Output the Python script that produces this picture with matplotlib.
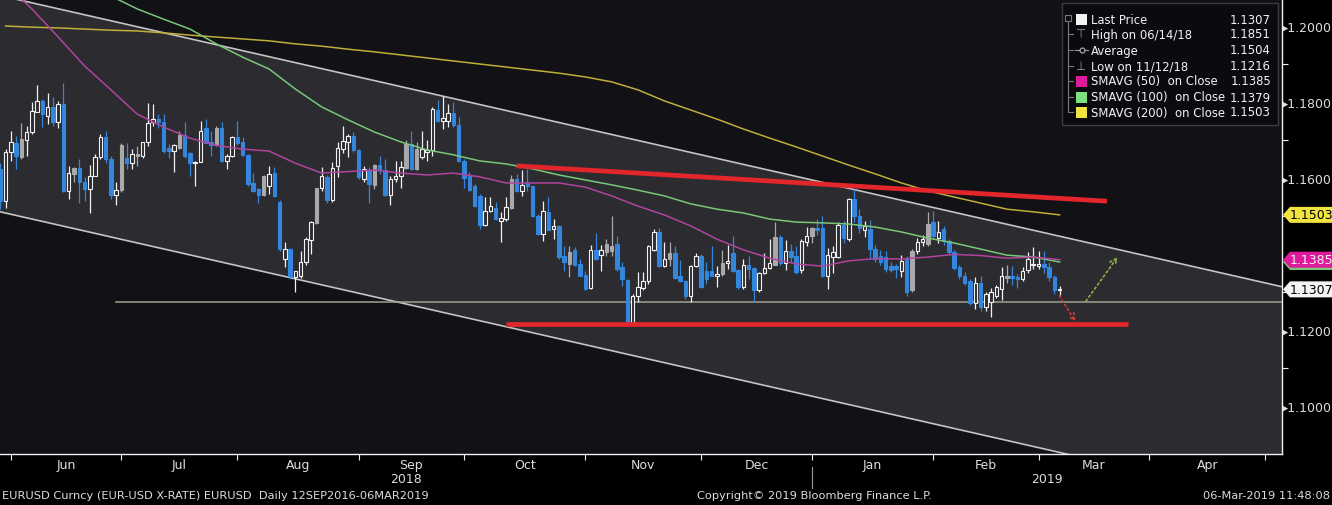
import matplotlib
matplotlib.use("Agg")
import matplotlib.pyplot as plt
import matplotlib.transforms as mtransforms
from matplotlib.patches import Polygon, Rectangle
import numpy as np
import pandas as pd

# --- data -------------------------------------------------------------------
first_day = "2018-05-29"
last_day = "2019-03-06"
axis_end_day = "2019-05-31"

# daily candles, May 29 2018 .. Mar 6 2019 (FX: every weekday)
opens = [
    1.1624, 1.1540, 1.1668,
    # Jun
    1.1692, 1.1654, 1.1701, 1.1720, 1.1775, 1.1802, 1.1764, 1.1786, 1.1748, 1.1795, 1.1567,
    1.1611, 1.1626, 1.1590, 1.1571, 1.1606, 1.1654, 1.1707, 1.1650, 1.1554, 1.1569,
    # Jul
    1.1652, 1.1640, 1.1657, 1.1657, 1.1694, 1.1748, 1.1755, 1.1747, 1.1678, 1.1672, 1.1678,
    1.1713, 1.1665, 1.1640, 1.1641, 1.1731, 1.1696, 1.1687, 1.1731, 1.1646, 1.1657, 1.1707,
    # Aug
    1.1696, 1.1661, 1.1587, 1.1571, 1.1555, 1.1580, 1.1613, 1.1538, 1.1388, 1.1413, 1.1339,
    1.1341, 1.1378, 1.1438, 1.1482, 1.1573, 1.1602, 1.1541, 1.1631, 1.1676, 1.1694, 1.1711, 1.1675,
    # Sep
    1.1597, 1.1622, 1.1582, 1.1634, 1.1622, 1.1555, 1.1597, 1.1606, 1.1626, 1.1690,
    1.1624, 1.1655, 1.1669, 1.1675, 1.1780, 1.1751, 1.1749, 1.1771, 1.1739, 1.1646,
    # Oct
    1.1608, 1.1580, 1.1552, 1.1476, 1.1514, 1.1520, 1.1488, 1.1492, 1.1520, 1.1597, 1.1567,
    1.1588, 1.1578, 1.1501, 1.1453, 1.1511, 1.1466, 1.1475, 1.1394, 1.1374, 1.1411, 1.1374, 1.1345,
    # Nov
    1.1310, 1.1411, 1.1397, 1.1406, 1.1409, 1.1426, 1.1365, 1.1332, 1.1219, 1.1290, 1.1310,
    1.1330, 1.1411, 1.1457, 1.1369, 1.1387, 1.1403, 1.1343, 1.1330, 1.1290, 1.1368, 1.1394,
    # Dec
    1.1356, 1.1356, 1.1343, 1.1347, 1.1376, 1.1403, 1.1359, 1.1312, 1.1371, 1.1362, 1.1304,
    1.1350, 1.1362, 1.1371, 1.1446, 1.1376, 1.1409, 1.1396, 1.1357, 1.1431, 1.1447,
    # Jan
    1.1468, 1.1468, 1.1343, 1.1392, 1.1393, 1.1476, 1.1440, 1.1545, 1.1501, 1.1462, 1.1466,
    1.1413, 1.1396, 1.1391, 1.1369, 1.1369, 1.1356, 1.1387, 1.1304, 1.1409, 1.1431, 1.1426, 1.1483,
    # Feb
    1.1441, 1.1466, 1.1435, 1.1406, 1.1365, 1.1343, 1.1330, 1.1271, 1.1325, 1.1260,
    1.1273, 1.1290, 1.1308, 1.1338, 1.1343, 1.1339, 1.1334, 1.1359, 1.1370, 1.1368,
    # Mar
    1.1373, 1.1365, 1.1339, 1.1305,
]
highs = [
    1.1640, 1.1676, 1.1725,
    1.1711, 1.1746, 1.1736, 1.1799, 1.1845, 1.1808, 1.1824, 1.1812, 1.1803, 1.1851, 1.1631,
    1.1628, 1.1650, 1.1602, 1.1634, 1.1663, 1.1716, 1.1725, 1.1659, 1.1589, 1.1692,
    1.1692, 1.1676, 1.1683, 1.1696, 1.1797, 1.1795, 1.1768, 1.1768, 1.1690, 1.1690, 1.1725,
    1.1748, 1.1668, 1.1646, 1.1751, 1.1755, 1.1725, 1.1736, 1.1748, 1.1663, 1.1711, 1.1751,
    1.1707, 1.1663, 1.1613, 1.1575, 1.1608, 1.1631, 1.1628, 1.1541, 1.1431, 1.1415, 1.1356,
    1.1409, 1.1444, 1.1488, 1.1575, 1.1628, 1.1607, 1.1643, 1.1694, 1.1736, 1.1716, 1.1720, 1.1677,
    1.1631, 1.1628, 1.1637, 1.1659, 1.1650, 1.1606, 1.1646, 1.1646, 1.1701, 1.1725,
    1.1696, 1.1725, 1.1700, 1.1786, 1.1806, 1.1815, 1.1795, 1.1801, 1.1760, 1.1650,
    1.1615, 1.1584, 1.1558, 1.1549, 1.1549, 1.1538, 1.1510, 1.1549, 1.1608, 1.1611, 1.1621,
    1.1625, 1.1580, 1.1505, 1.1540, 1.1550, 1.1492, 1.1477, 1.1420, 1.1420, 1.1418, 1.1387, 1.1356,
    1.1424, 1.1455, 1.1424, 1.1439, 1.1499, 1.1447, 1.1378, 1.1334, 1.1295, 1.1352, 1.1352,
    1.1424, 1.1466, 1.1468, 1.1431, 1.1431, 1.1420, 1.1385, 1.1332, 1.1371, 1.1403, 1.1400,
    1.1378, 1.1420, 1.1369, 1.1411, 1.1424, 1.1447, 1.1361, 1.1387, 1.1396, 1.1365, 1.1352,
    1.1402, 1.1439, 1.1483, 1.1450, 1.1438, 1.1426, 1.1421, 1.1440, 1.1470, 1.1470,
    1.1493, 1.1499, 1.1415, 1.1422, 1.1485, 1.1486, 1.1548, 1.1570, 1.1518, 1.1487, 1.1490,
    1.1424, 1.1410, 1.1408, 1.1380, 1.1375, 1.1397, 1.1395, 1.1412, 1.1443, 1.1450, 1.1510, 1.1514,
    1.1488, 1.1475, 1.1440, 1.1410, 1.1370, 1.1352, 1.1335, 1.1340, 1.1342, 1.1300,
    1.1310, 1.1318, 1.1365, 1.1372, 1.1368, 1.1348, 1.1367, 1.1405, 1.1418, 1.1408,
    1.1408, 1.1379, 1.1345, 1.1315,
]
lows = [
    1.1518, 1.1520, 1.1646,
    1.1624, 1.1650, 1.1659, 1.1716, 1.1773, 1.1733, 1.1742, 1.1738, 1.1731, 1.1563, 1.1546,
    1.1589, 1.1534, 1.1540, 1.1508, 1.1604, 1.1650, 1.1640, 1.1545, 1.1529, 1.1562,
    1.1624, 1.1624, 1.1632, 1.1652, 1.1683, 1.1738, 1.1731, 1.1667, 1.1652, 1.1615, 1.1676,
    1.1652, 1.1606, 1.1580, 1.1641, 1.1692, 1.1657, 1.1683, 1.1643, 1.1624, 1.1654, 1.1687,
    1.1657, 1.1580, 1.1564, 1.1534, 1.1553, 1.1558, 1.1549, 1.1409, 1.1365, 1.1334, 1.1301,
    1.1336, 1.1371, 1.1400, 1.1479, 1.1567, 1.1535, 1.1538, 1.1602, 1.1666, 1.1654, 1.1668, 1.1597,
    1.1589, 1.1535, 1.1571, 1.1611, 1.1553, 1.1529, 1.1589, 1.1575, 1.1624, 1.1622,
    1.1622, 1.1650, 1.1645, 1.1659, 1.1747, 1.1729, 1.1733, 1.1733, 1.1641, 1.1573,
    1.1567, 1.1523, 1.1466, 1.1475, 1.1510, 1.1490, 1.1432, 1.1488, 1.1519, 1.1563, 1.1552,
    1.1565, 1.1497, 1.1450, 1.1435, 1.1462, 1.1440, 1.1387, 1.1356, 1.1339, 1.1368, 1.1341, 1.1306,
    1.1308, 1.1383, 1.1356, 1.1396, 1.1396, 1.1356, 1.1317, 1.1216, 1.1218, 1.1273, 1.1304,
    1.1321, 1.1409, 1.1365, 1.1367, 1.1369, 1.1334, 1.1327, 1.1282, 1.1273, 1.1365, 1.1310,
    1.1321, 1.1341, 1.1312, 1.1343, 1.1361, 1.1352, 1.1308, 1.1308, 1.1334, 1.1273, 1.1299,
    1.1347, 1.1361, 1.1371, 1.1371, 1.1358, 1.1380, 1.1347, 1.1350, 1.1420, 1.1430,
    1.1450, 1.1339, 1.1309, 1.1350, 1.1390, 1.1428, 1.1433, 1.1483, 1.1455, 1.1444, 1.1387,
    1.1380, 1.1370, 1.1352, 1.1352, 1.1337, 1.1340, 1.1290, 1.1300, 1.1400, 1.1420, 1.1420, 1.1440,
    1.1430, 1.1425, 1.1400, 1.1358, 1.1335, 1.1318, 1.1265, 1.1255, 1.1250, 1.1249,
    1.1234, 1.1285, 1.1278, 1.1325, 1.1318, 1.1310, 1.1330, 1.1350, 1.1360, 1.1360,
    1.1350, 1.1330, 1.1295, 1.1291,
]
closes = [
    1.1540, 1.1668, 1.1694,
    1.1657, 1.1703, 1.1720, 1.1777, 1.1802, 1.1768, 1.1786, 1.1748, 1.1795, 1.1567, 1.1613,
    1.1626, 1.1590, 1.1571, 1.1606, 1.1654, 1.1707, 1.1650, 1.1554, 1.1569, 1.1687,
    1.1640, 1.1662, 1.1663, 1.1694, 1.1746, 1.1755, 1.1747, 1.1672, 1.1672, 1.1687, 1.1713,
    1.1657, 1.1640, 1.1643, 1.1725, 1.1692, 1.1687, 1.1731, 1.1646, 1.1659, 1.1707, 1.1692,
    1.1661, 1.1584, 1.1567, 1.1555, 1.1604, 1.1611, 1.1552, 1.1412, 1.1412, 1.1341, 1.1354,
    1.1380, 1.1440, 1.1485, 1.1573, 1.1604, 1.1541, 1.1626, 1.1679, 1.1698, 1.1711, 1.1675, 1.1602,
    1.1624, 1.1584, 1.1633, 1.1622, 1.1555, 1.1597, 1.1606, 1.1628, 1.1690, 1.1624,
    1.1676, 1.1677, 1.1675, 1.1782, 1.1751, 1.1757, 1.1771, 1.1739, 1.1646, 1.1599,
    1.1569, 1.1527, 1.1476, 1.1514, 1.1526, 1.1492, 1.1494, 1.1523, 1.1597, 1.1567, 1.1582,
    1.1578, 1.1499, 1.1453, 1.1514, 1.1464, 1.1475, 1.1391, 1.1378, 1.1404, 1.1371, 1.1343, 1.1308,
    1.1411, 1.1387, 1.1411, 1.1426, 1.1420, 1.1361, 1.1334, 1.1219, 1.1290, 1.1312, 1.1330,
    1.1420, 1.1457, 1.1369, 1.1387, 1.1403, 1.1336, 1.1330, 1.1290, 1.1368, 1.1394, 1.1312,
    1.1334, 1.1343, 1.1347, 1.1376, 1.1382, 1.1356, 1.1312, 1.1371, 1.1361, 1.1304, 1.1350,
    1.1362, 1.1376, 1.1446, 1.1376, 1.1409, 1.1391, 1.1352, 1.1435, 1.1448, 1.1468,
    1.1462, 1.1343, 1.1397, 1.1405, 1.1476, 1.1442, 1.1545, 1.1501, 1.1468, 1.1474, 1.1413,
    1.1387, 1.1378, 1.1360, 1.1359, 1.1360, 1.1382, 1.1299, 1.1409, 1.1431, 1.1440, 1.1479, 1.1448,
    1.1457, 1.1435, 1.1406, 1.1362, 1.1343, 1.1324, 1.1271, 1.1325, 1.1260, 1.1295,
    1.1299, 1.1312, 1.1343, 1.1343, 1.1336, 1.1334, 1.1356, 1.1387, 1.1374, 1.1373,
    1.1365, 1.1339, 1.1306, 1.1307,
]
# up days that Bloomberg paints as solid grey candles
gray_days = [
    "2018-06-04", "2018-06-18", "2018-06-29", "2018-07-04", "2018-07-16", "2018-07-25",
    "2018-08-07", "2018-08-21", "2018-09-05", "2018-09-13", "2018-09-17", "2018-10-11",
    "2018-10-26", "2018-11-06", "2018-11-07", "2018-11-22", "2018-12-06", "2018-12-20",
    "2018-12-31", "2019-01-25", "2019-01-30", "2019-02-20",
]

# moving averages, read every 5th trading day starting May 30 2018
sma_step = 5
sma50 = [1.2110, 1.2045, 1.1971, 1.1895, 1.1832, 1.1768, 1.1734, 1.1705, 1.1686, 1.1676,
         1.1671, 1.1639, 1.1613, 1.1617, 1.1621, 1.1613, 1.1608, 1.1613, 1.1603, 1.1587,
         1.1587, 1.1587, 1.1576, 1.1553, 1.1526, 1.1503, 1.1474, 1.1439, 1.1411, 1.1389,
         1.1374, 1.1368, 1.1382, 1.1388, 1.1387, 1.1392, 1.1399, 1.1396, 1.1389, 1.1392, 1.1385]
sma100 = [1.2185, 1.2160, 1.2135, 1.2105, 1.2079, 1.2045, 1.2018, 1.1992, 1.1953, 1.1918,
          1.1887, 1.1834, 1.1787, 1.1753, 1.1721, 1.1695, 1.1674, 1.1661, 1.1645, 1.1637,
          1.1624, 1.1608, 1.1595, 1.1582, 1.1568, 1.1553, 1.1532, 1.1518, 1.1508, 1.1492,
          1.1484, 1.1482, 1.1479, 1.1471, 1.1458, 1.1442, 1.1429, 1.1413, 1.1397, 1.1392, 1.1379]
sma200 = [1.2000, 1.1997, 1.1995, 1.1992, 1.1989, 1.1987, 1.1982, 1.1976, 1.1971, 1.1966,
          1.1961, 1.1953, 1.1947, 1.1939, 1.1932, 1.1924, 1.1916, 1.1908, 1.1900, 1.1892,
          1.1884, 1.1876, 1.1866, 1.1853, 1.1832, 1.1803, 1.1779, 1.1755, 1.1729, 1.1705,
          1.1682, 1.1658, 1.1634, 1.1611, 1.1587, 1.1566, 1.1550, 1.1534, 1.1518, 1.1511, 1.1503]

# drawn studies: (date, price) anchors
channel_top = [("2018-05-29", 1.2080), ("2019-04-30", 1.1324)]
channel_bottom = [("2018-05-29", 1.1511), ("2019-04-30", 1.0755)]
support_level = 1.1273
support_from = "2018-06-28"
red_resistance = [("2018-10-12", 1.1632), ("2019-03-19", 1.1539)]
red_support = [("2018-10-10", 1.1215), ("2019-03-25", 1.1215)]
arrow_down = [("2019-03-06", 1.1290), ("2019-03-11", 1.1222)]
arrow_up = [("2019-03-13", 1.1276), ("2019-03-21", 1.1392)]

legend_labels = ["Last Price", "High on 06/14/18", "Average", "Low on 11/12/18",
                 "SMAVG (50)  on Close", "SMAVG (100)  on Close", "SMAVG (200)  on Close"]
legend_values = ["1.1307", "1.1851", "1.1504", "1.1216", "1.1385", "1.1379", "1.1503"]

y_ticks = [1.10, 1.12, 1.14, 1.16, 1.18, 1.20]

# --- colours -----------------------------------------------------------------
BG = "#000000"
PLOT_BG = "#111116"
CHANNEL = "#2b2b30"
BLUE = "#3486dc"
WHITE = "#f2f2f2"
GREY = "#a9a9a9"
C50, C100, C200 = "#b0449e", "#78c878", "#bfae3a"
TXT = "#dcdcdc"

W, H = 1332, 506
plt.rcParams["font.family"] = ["DejaVu Sans"]

days = pd.bdate_range(first_day, last_day)
cal = pd.bdate_range(first_day, axis_end_day)
assert len(days) == len(opens) == len(highs) == len(lows) == len(closes)


def xpos(d):
    return float(cal.get_loc(pd.Timestamp(d)))


def fx(px):
    return px / W


def fy(py):
    return 1 - py / H


fig = plt.figure(figsize=(W / 100, H / 100), dpi=100, facecolor=BG)
ax = fig.add_axes([0, fy(455), fx(1282), 455 / H])
ax.set_facecolor(PLOT_BG)
x0, x1 = -0.044, 243.2
ax.set_xlim(x0, x1)
ax.set_ylim(1.08737, 1.20711)


def line_at(anchors, xs):
    (da, pa), (db, pb) = anchors
    xa, xb = xpos(da), xpos(db)
    slope = (pb - pa) / (xb - xa)
    return pa + slope * (np.asarray(xs) - xa)


# price channel
xs = np.array([x0, x1])
ax.fill_between(xs, line_at(channel_bottom, xs), line_at(channel_top, xs),
                color=CHANNEL, lw=0, zorder=1)
ax.plot(xs, line_at(channel_top, xs), color="#c4c4c4", lw=1.2, zorder=2)
ax.plot(xs, line_at(channel_bottom, xs), color="#c4c4c4", lw=1.2, zorder=2)
ax.plot([xpos(support_from), x1], [support_level, support_level], color="#a3a38c", lw=1.1, zorder=2)

# candles
pos = np.arange(len(days))
o, h, l, c = map(np.array, (opens, highs, lows, closes))
gray = days.isin(pd.to_datetime(gray_days))
down = c < o
face = np.where(down, BLUE, np.where(gray, GREY, CHANNEL))
edge = np.where(down, BLUE, np.where(gray, GREY, WHITE))
ax.vlines(pos, l, h, colors=edge, lw=0.9, zorder=3)
ax.bar(pos, np.maximum(np.abs(c - o), 0.00025), bottom=np.minimum(o, c), width=0.66,
       color=face, edgecolor=edge, linewidth=0.8, zorder=4)

# moving averages
sma_pos = pos[1::sma_step]
for vals, col in ((sma200, C200), (sma100, C100), (sma50, C50)):
    ax.plot(sma_pos, vals, color=col, lw=1.1, zorder=5)

# hand-drawn studies
for seg in (red_resistance, red_support):
    ax.plot([xpos(seg[0][0]), xpos(seg[1][0])], [seg[0][1], seg[1][1]],
            color="#e3262b", lw=3.4, solid_capstyle="butt", zorder=6)
for seg, col in ((arrow_down, "#d23a3a"), (arrow_up, "#8fb04a")):
    ax.annotate("", xy=(xpos(seg[1][0]), seg[1][1]), xytext=(xpos(seg[0][0]), seg[0][1]),
                arrowprops=dict(arrowstyle="->", color=col, lw=1.2, linestyle=(0, (1.2, 1.8)),
                                mutation_scale=12, shrinkA=0, shrinkB=0), zorder=6)

# axes styling
for side in ("top", "left"):
    ax.spines[side].set_visible(False)
for side in ("right", "bottom"):
    ax.spines[side].set_color(WHITE)
    ax.spines[side].set_linewidth(1.0)

# right price scale (the 1.1400 label sits under the SMA tags)
ax.yaxis.tick_right()
ax.set_yticks(y_ticks)
ax.set_yticklabels(["" if abs(v - 1.14) < 1e-9 else "\u25b8" + f"{v:.4f}" for v in y_ticks])
ax.set_yticks([v + 0.01 for v in y_ticks[:-1]], minor=True)
ax.tick_params(axis="y", which="major", length=0, pad=0, labelsize=9, labelcolor=TXT)
ax.tick_params(axis="y", which="minor", length=4, width=0.8, color=WHITE)

# month ticks on boundaries, labels in the middle
months = pd.date_range("2018-06-01", axis_end_day, freq="MS")
bounds = [float(cal.searchsorted(m)) - 1 for m in months]
ax.set_xticks(bounds)
ax.set_xticklabels([])
mids = [(a + b) / 2 for a, b in zip(bounds[:-1], bounds[1:])]
ax.set_xticks(mids, minor=True)
ax.set_xticklabels([m.strftime("%b") for m in months[:-1]], minor=True)
ax.tick_params(axis="x", which="major", length=4, width=0.8, color=WHITE, direction="out")
ax.tick_params(axis="x", which="minor", length=0, pad=3, labelsize=9, labelcolor=TXT)

# year labels and separator
trans_x = mtransforms.blended_transform_factory(ax.transData, ax.transAxes)
year_break = float(cal.searchsorted(pd.Timestamp("2019-01-01"))) - 1
ax.text((x0 + year_break) / 2, -0.053, "2018", transform=trans_x, ha="center", va="center",
        fontsize=9, color=TXT, clip_on=False)
ax.text((year_break + x1) / 2, -0.053, "2019", transform=trans_x, ha="center", va="center",
        fontsize=9, color=TXT, clip_on=False)
ax.plot([year_break, year_break], [-0.029, -0.075], transform=trans_x, color="#9a9a9a",
        lw=0.8, clip_on=False)

# price tags on the right axis (green SMA100 tag hides behind the magenta one)
trans_y = mtransforms.blended_transform_factory(ax.transAxes, ax.transData)
tag_h = 8 / 3800
tx0, tx1, tx2 = 1283 / 1282, 1290 / 1282, 1332 / 1282
tags = [(float(legend_values[5]), C100, None),
        (float(legend_values[6]), "#f2e440", "#000000"),
        (float(legend_values[4]), "#e0199c", "#f4f4f4"),
        (float(legend_values[0]), "#f4f4f4", "#000000")]
for val, fc, tc in tags:
    ax.add_patch(Polygon([(tx0, val), (tx1, val + tag_h), (tx2, val + tag_h),
                          (tx2, val - tag_h), (tx1, val - tag_h)], closed=True,
                         transform=trans_y, facecolor=fc, edgecolor="none",
                         clip_on=False, zorder=8))
    if tc is not None:
        ax.text(1311 / 1282, val, f"{val:.4f}", transform=trans_y, ha="center", va="center",
                fontsize=9, color=tc, clip_on=False, zorder=9)

# legend box
LEG_FS = 8.4
fig.patches.append(Rectangle((fx(1062), fy(126)), fx(216), 122 / H, transform=fig.transFigure,
                             facecolor="#0b0b0f", edgecolor="#3c3c42", lw=1.0, zorder=10))
rows = [20, 35, 51, 67, 82, 98, 113]
icon_cols = [WHITE, None, None, None, "#e0199c", "#7fe07f", "#f2e440"]
fig.add_artist(plt.Line2D([fx(1068), fx(1068)], [fy(22), fy(113)], color="#7a7a7a", lw=0.8,
                          zorder=11))
fig.patches.append(Rectangle((fx(1065), fy(22)), fx(6), 6 / H, transform=fig.transFigure,
                             facecolor="none", edgecolor="#7a7a7a", lw=0.8, zorder=11))
for k, (yy, lab, val, col) in enumerate(zip(rows, legend_labels, legend_values, icon_cols)):
    if k > 0:
        fig.add_artist(plt.Line2D([fx(1068), fx(1073)], [fy(yy), fy(yy)], color="#7a7a7a",
                                  lw=0.8, zorder=11))
    if col is not None:
        fig.patches.append(Rectangle((fx(1076), fy(yy + 5.5)), fx(11), 11 / H,
                                     transform=fig.transFigure, facecolor=col,
                                     edgecolor="none", zorder=11))
    elif k == 2:
        fig.add_artist(plt.Line2D([fx(1075), fx(1088)], [fy(yy), fy(yy)], color="#9a9a9a",
                                  lw=0.8, zorder=11))
        fig.add_artist(plt.Line2D([fx(1081.5)], [fy(yy)], color="#9a9a9a", marker="o",
                                  markersize=3.5, markerfacecolor="#0b0b0f", zorder=12))
    else:
        fig.text(fx(1081.5), fy(yy), "\u22a4" if k == 1 else "\u22a5", ha="center",
                 va="center", fontsize=LEG_FS, color="#9a9a9a", zorder=11)
    fig.text(fx(1091), fy(yy), lab, ha="left", va="center", fontsize=LEG_FS, color=WHITE,
             zorder=11)
    fig.text(fx(1271), fy(yy), val, ha="right", va="center", fontsize=LEG_FS, color=WHITE,
             zorder=11)

# footer
FOOT_FS = 8.2
fig.text(fx(2), fy(496), "EURUSD Curncy (EUR-USD X-RATE) EURUSD  Daily 12SEP2016-06MAR2019",
         ha="left", va="center", fontsize=FOOT_FS, color=TXT)
fig.text(fx(697), fy(496), "Copyright\u00a9 2019 Bloomberg Finance L.P.", ha="left",
         va="center", fontsize=FOOT_FS, color=TXT)
fig.text(fx(1330), fy(496), "06-Mar-2019 11:48:08", ha="right", va="center", fontsize=FOOT_FS,
         color=TXT)

fig.savefig("out.png", dpi=100, facecolor=BG)
